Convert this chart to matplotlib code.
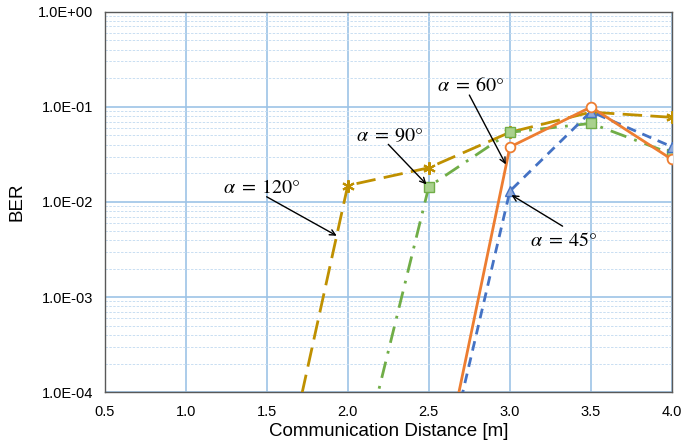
import numpy as np
import matplotlib
matplotlib.use("Agg")
import matplotlib.pyplot as plt
from matplotlib.ticker import LogLocator, FixedLocator, FuncFormatter

plt.rcParams['font.family'] = ['Liberation Sans', 'DejaVu Sans']
plt.rcParams['mathtext.fontset'] = 'stix'

# data (first point of each series is below the axis)
dist_120 = [1.5, 2.0, 2.5, 3.0, 3.5, 4.0]
ber_120 = [2.0e-6, 1.49e-2, 2.29e-2, 5.4e-2, 8.8e-2, 7.76e-2]

dist_90 = [2.0, 2.5, 3.0, 3.5, 4.0]
ber_90 = [5.0e-6, 1.45e-2, 5.4e-2, 6.7e-2, 3.2e-2]

dist_60 = [2.5, 3.0, 3.5, 4.0]
ber_60 = [3.0e-6, 3.78e-2, 9.95e-2, 2.8e-2]

dist_45 = [2.5, 3.0, 3.5, 4.0]
ber_45 = [3.0e-6, 1.3e-2, 8.9e-2, 3.8e-2]

x_ticks = [0.5, 1.0, 1.5, 2.0, 2.5, 3.0, 3.5, 4.0]

# annotation labels: text, arrow tip (data), arrow tail (data), text left/centre (data)
labels = [r'$\alpha\;=\;60°$', r'$\alpha\;=\;90°$', r'$\alpha\;=\;120°$', r'$\alpha\;=\;45°$']
tips = [(2.975, 10**-1.605), (2.486, 10**-1.815), (1.932, 10**-2.355), (3.010, 10**-1.927)]
tails = [(2.750, 10**-0.876), (2.250, 10**-1.394), (1.500, 10**-1.945), (3.325, 10**-2.254)]
text_pos = [(2.548, 10**-0.771), (2.050, 10**-1.297), (1.230, 10**-1.849), (3.123, 10**-2.400)]

fig = plt.figure(figsize=(6.81, 4.47), dpi=100)
ax = fig.add_axes([0.1535, 0.1224, 0.8333, 0.8514])

ax.set_yscale('log')
ax.set_xlim(0.5, 4.0)
ax.set_ylim(1e-4, 1.0)

# grid
ax.yaxis.set_major_locator(LogLocator(base=10, numticks=10))
ax.yaxis.set_minor_locator(LogLocator(base=10, subs=np.arange(2, 10), numticks=20))
ax.xaxis.set_major_locator(FixedLocator(x_ticks))
ax.grid(True, which='major', axis='both', color='#9DC3E6', lw=1.2)
ax.grid(True, which='minor', axis='y', color='#C9DEF2', lw=0.7, ls=(0, (2.5, 1.5)))
ax.set_axisbelow(True)

ax.plot(dist_120, ber_120, color='#BF9000', lw=2.0, ls=(0, (7, 3)),
        marker=(6, 2, 0), ms=9, mew=1.5, mec='#BF9000', zorder=3)
ax.plot(dist_90, ber_90, color='#70AD47', lw=2.0, ls=(0, (6, 3, 1, 3)),
        marker='s', ms=7, mfc='#A9D18E', mec='#70AD47', mew=1, zorder=3)
ax.plot(dist_60, ber_60, color='#ED7D31', lw=2.0, ls='-',
        marker='o', ms=7, mfc='white', mec='#ED7D31', mew=1.3, zorder=4)
ax.plot(dist_45, ber_45, color='#4472C4', lw=2.0, ls=(0, (3.5, 2.5)),
        marker='^', ms=7, mfc='#8FAADC', mec='#4472C4', mew=1, zorder=3)

ax.xaxis.set_major_formatter(FuncFormatter(lambda v, p: f"{v:.1f}"))
ax.yaxis.set_major_formatter(FuncFormatter(lambda v, p: f"{v:.1E}"))
ax.tick_params(axis='both', which='both', length=0, labelsize=10.5, colors='black')
ax.tick_params(axis='x', pad=9)
ax.tick_params(axis='y', pad=8)
for s in ax.spines.values():
    s.set_color('#595959')
    s.set_linewidth(1.0)

ax.set_xlabel('Communication Distance [m]', fontsize=13.5, labelpad=3)
ax.set_ylabel('BER', fontsize=13.5, labelpad=9)

arrow = dict(arrowstyle='->', color='black', lw=1.0, shrinkA=0, shrinkB=0)
for txt, tip, tail, tpos in zip(labels, tips, tails, text_pos):
    ax.text(tpos[0], tpos[1], txt, fontsize=14.5, ha='left', va='center', zorder=6)
    ax.annotate('', xy=tip, xytext=tail, arrowprops=arrow, zorder=6)

fig.savefig('out.png', dpi=100)
